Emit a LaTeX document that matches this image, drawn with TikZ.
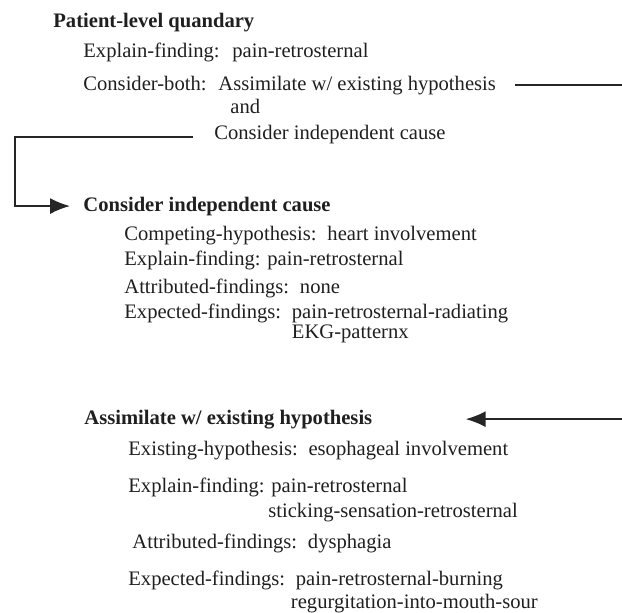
\documentclass[tikz,border=0pt]{standalone}
\usepackage{fontspec}
\setmainfont{Liberation Serif}
\usetikzlibrary{arrows.meta}

\begin{document}
\begin{tikzpicture}[x=0.5pt,y=-0.5pt,
  txt/.style={anchor=base west,inner sep=0pt,text=black!88,font=\fontsize{10.3}{12}\selectfont},
  hd/.style={txt,font=\fontsize{10.3}{12}\selectfont\bfseries},
  link/.style={draw=black!85,line width=0.9pt},
  tip/.style={link,-{Latex[length=10pt,width=8pt]}}]
\useasboundingbox (0,0) rectangle (622,612);
\node[hd] (pq) at (53,27) {Patient-level quandary};
\node[txt] (pqexp) at (83,57) {Explain-finding:};
\node[txt] (pqexpv) at ([xshift=6pt]pqexp.base east) {pain-retrosternal};
\node[txt] (pqcb) at (83,90) {Consider-both:};
\node[txt] (pqcbv) at ([xshift=5.5pt]pqcb.base east) {Assimilate w/ existing hypothesis};
\node[txt] (pqand) at ([shift={(6pt,-11.5pt)}]pqcbv.base west) {and};
\node[txt] (pqci) at ([shift={(-2pt,-24.5pt)}]pqcbv.base west) {Consider independent cause};

\node[hd] (cih) at (83,211) {Consider independent cause};
\node[txt] (cicomp) at (124,240) {Competing-hypothesis:};
\node[txt] (cicompv) at ([xshift=5pt]cicomp.base east) {heart involvement};
\node[txt] (ciexp) at (124,265) {Explain-finding:};
\node[txt] (ciexpv) at ([xshift=3pt]ciexp.base east) {pain-retrosternal};
\node[txt] (ciatt) at (124,293) {Attributed-findings:};
\node[txt] (ciattv) at ([xshift=5pt]ciatt.base east) {none};
\node[txt] (ciexd) at (124,318) {Expected-findings:};
\node[txt] (ciexdv) at ([xshift=5pt]ciexd.base east) {pain-retrosternal-radiating};
\node[txt] (ciexdv2) at ([yshift=-10pt]ciexdv.base west) {EKG-patternx};

\node[hd] (ash) at (84,424) {Assimilate w/ existing hypothesis};
\node[txt] (asexist) at (128,455) {Existing-hypothesis:};
\node[txt] (asexistv) at ([xshift=5pt]asexist.base east) {esophageal involvement};
\node[txt] (asexp) at (128,492) {Explain-finding:};
\node[txt] (asexpv) at ([xshift=3pt]asexp.base east) {pain-retrosternal};
\node[txt] (asexpv2) at ([shift={(-1.5pt,-12.5pt)}]asexpv.base west) {sticking-sensation-retrosternal};
\node[txt] (asatt) at (132,548) {Attributed-findings:};
\node[txt] (asattv) at ([xshift=5pt]asatt.base east) {dysphagia};
\node[txt] (asexd) at (128,585) {Expected-findings:};
\node[txt] (asexdv) at ([xshift=5pt]asexd.base east) {pain-retrosternal-burning};
\node[txt] (asexdv2) at ([shift={(-2.5pt,-11.5pt)}]asexdv.base west) {regurgitation-into-mouth-sour};

\coordinate (rgt) at (622,0);
\coordinate (lft) at (15,0);
\draw[link] ([xshift=9.5pt]pqcbv.east) -- (pqcbv.east -| rgt);
\draw[tip] ([shift={(-10.5pt,1pt)}]pqci.base west) -- ([yshift=1pt]pqci.base west -| lft) |- ([xshift=-6.5pt]cih.west);
\draw[tip] (ash.east -| rgt) -- ([xshift=46.5pt]ash.east);
\end{tikzpicture}
\end{document}
